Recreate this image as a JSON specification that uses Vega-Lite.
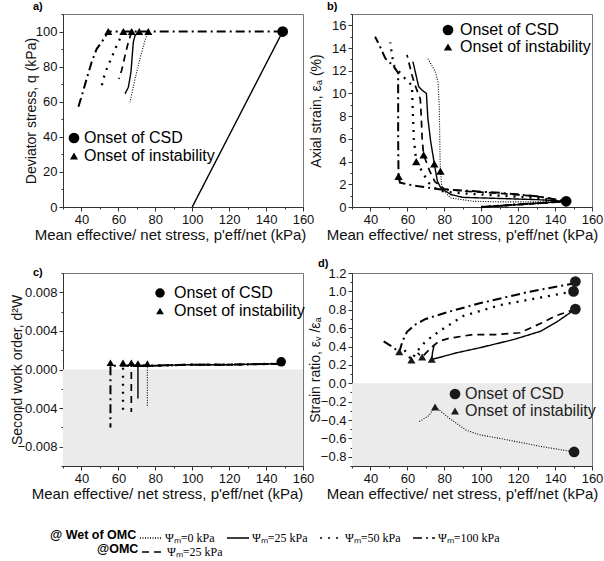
{
"$schema":"https://vega.github.io/schema/vega-lite/v6.json",
"padding":{"left":10,"top":0,"right":0,"bottom":0},
"background":"white",
"config":{
 "font":"Liberation Sans",
 "view":{"stroke":"#777","strokeWidth":1},
 "axis":{"labelFont":"Liberation Sans","labelFontSize":13,"labelColor":"#111","titleFont":"Liberation Sans","titleFontWeight":"normal","titleColor":"#111","domainColor":"#333","tickColor":"#333","grid":false,"ticks":true,"tickSize":3,"labelPadding":2,"labelOverlap":false,"labelBound":false,"labelFlush":false,"tickCount":50},
 "axisX":{"titleFontSize":15,"titlePadding":1},
 "axisY":{"titleFontSize":14},
 "legend":{"padding":0,"labelFont":"Liberation Sans"},
 "title":{"fontSize":11,"fontWeight":"bold","anchor":"start","frame":"group","font":"Liberation Sans","color":"#000"}
},
"datasets":{
 "lineA":[
  {"s":"w100","g":"w100","i":0,"p":149,"v":100},{"s":"w100","g":"w100","i":1,"p":54.5,"v":100},{"s":"w100","g":"w100","i":2,"p":52.8,"v":96.8},{"s":"w100","g":"w100","i":3,"p":48.2,"v":90},{"s":"w100","g":"w100","i":4,"p":45.5,"v":82.5},{"s":"w100","g":"w100","i":5,"p":42.8,"v":73},{"s":"w100","g":"w100","i":6,"p":40.5,"v":64.5},{"s":"w100","g":"w100","i":7,"p":38,"v":56},
  {"s":"w25","g":"d","i":0,"p":100,"v":0},{"s":"w25","g":"d","i":1,"p":149,"v":100},
  {"s":"w50","g":"w50","i":0,"p":62.7,"v":100},{"s":"w50","g":"w50","i":1,"p":59.1,"v":92},{"s":"w50","g":"w50","i":2,"p":56.4,"v":85.4},{"s":"w50","g":"w50","i":3,"p":53.7,"v":78.7},{"s":"w50","g":"w50","i":4,"p":51.8,"v":73},{"s":"w50","g":"w50","i":5,"p":50.6,"v":67},
  {"s":"omc","g":"omc","i":0,"p":67.2,"v":100},{"s":"omc","g":"omc","i":1,"p":65.4,"v":94},{"s":"omc","g":"omc","i":2,"p":63.6,"v":86.3},{"s":"omc","g":"omc","i":3,"p":61.8,"v":78},{"s":"omc","g":"omc","i":4,"p":60.3,"v":73},
  {"s":"w25","g":"w25","i":0,"p":71.3,"v":100},{"s":"w25","g":"w25","i":1,"p":69,"v":97.7},{"s":"w25","g":"w25","i":2,"p":68.1,"v":94},{"s":"w25","g":"w25","i":3,"p":67.5,"v":86.3},{"s":"w25","g":"w25","i":4,"p":66.8,"v":76.8},{"s":"w25","g":"w25","i":5,"p":65.4,"v":68.3},{"s":"w25","g":"w25","i":6,"p":63.6,"v":64.5},
  {"s":"w0","g":"w0","i":0,"p":76.2,"v":100},{"s":"w0","g":"w0","i":1,"p":74.4,"v":94.9},{"s":"w0","g":"w0","i":2,"p":71.7,"v":84.5},{"s":"w0","g":"w0","i":3,"p":69,"v":73},{"s":"w0","g":"w0","i":4,"p":66.3,"v":59.7}
 ],
 "ptA":[
  {"k":"Onset of CSD","p":149,"v":100},
  {"k":"Onset of instability","p":54.5,"v":100},{"k":"Onset of instability","p":62.7,"v":100},{"k":"Onset of instability","p":67.2,"v":100},{"k":"Onset of instability","p":71.3,"v":100},{"k":"Onset of instability","p":76.2,"v":100}
 ],
 "lineB":[
  {"s":"w100","i":0,"p":100,"v":0},{"s":"w100","i":1,"p":146,"v":0.5},{"s":"w100","i":2,"p":130,"v":0.95},{"s":"w100","i":3,"p":110,"v":1.25},{"s":"w100","i":4,"p":90,"v":1.45},{"s":"w100","i":5,"p":78,"v":1.55},{"s":"w100","i":6,"p":65,"v":1.85},{"s":"w100","i":7,"p":59.8,"v":2.0},{"s":"w100","i":8,"p":56,"v":2.15},{"s":"w100","i":9,"p":55.2,"v":2.7},{"s":"w100","i":10,"p":55,"v":6},{"s":"w100","i":11,"p":55,"v":11.8},{"s":"w100","i":12,"p":52.5,"v":12.4},{"s":"w100","i":13,"p":48,"v":13.1},{"s":"w100","i":14,"p":45,"v":14.2},{"s":"w100","i":15,"p":42.5,"v":15.0},
  {"s":"w50","i":0,"p":100,"v":0},{"s":"w50","i":1,"p":146,"v":0.5},{"s":"w50","i":2,"p":130,"v":0.8},{"s":"w50","i":3,"p":110,"v":1.0},{"s":"w50","i":4,"p":90,"v":1.2},{"s":"w50","i":5,"p":80,"v":1.35},{"s":"w50","i":6,"p":76,"v":1.55},{"s":"w50","i":7,"p":71.5,"v":2.13},{"s":"w50","i":8,"p":67.9,"v":3.15},{"s":"w50","i":9,"p":64.8,"v":4.0},{"s":"w50","i":10,"p":63.5,"v":6},{"s":"w50","i":11,"p":62.8,"v":9},{"s":"w50","i":12,"p":62.5,"v":10.7},{"s":"w50","i":13,"p":58.8,"v":11.3},{"s":"w50","i":14,"p":52.5,"v":12.5},{"s":"w50","i":15,"p":50.7,"v":14.5},
  {"s":"omc","i":0,"p":100,"v":0},{"s":"omc","i":1,"p":146,"v":0.5},{"s":"omc","i":2,"p":130,"v":0.95},{"s":"omc","i":3,"p":110,"v":1.2},{"s":"omc","i":4,"p":90,"v":1.4},{"s":"omc","i":5,"p":80,"v":1.6},{"s":"omc","i":6,"p":75,"v":2.2},{"s":"omc","i":7,"p":72,"v":3.2},{"s":"omc","i":8,"p":68.8,"v":4.6},{"s":"omc","i":9,"p":68,"v":6},{"s":"omc","i":10,"p":67.5,"v":8},{"s":"omc","i":11,"p":67,"v":9.5},{"s":"omc","i":12,"p":64,"v":10.8},{"s":"omc","i":13,"p":62.5,"v":11.6},{"s":"omc","i":14,"p":59.8,"v":13.4},
  {"s":"w25","i":0,"p":100,"v":0},{"s":"w25","i":1,"p":146,"v":0.5},{"s":"w25","i":2,"p":130,"v":0.65},{"s":"w25","i":3,"p":110,"v":0.75},{"s":"w25","i":4,"p":90,"v":0.85},{"s":"w25","i":5,"p":83.5,"v":1.1},{"s":"w25","i":6,"p":78,"v":1.7},{"s":"w25","i":7,"p":76.2,"v":2.3},{"s":"w25","i":8,"p":74.6,"v":3.8},{"s":"w25","i":9,"p":72.6,"v":5.8},{"s":"w25","i":10,"p":71.1,"v":7.8},{"s":"w25","i":11,"p":70.3,"v":10.0},{"s":"w25","i":12,"p":67.9,"v":10.3},{"s":"w25","i":13,"p":66.1,"v":10.6},{"s":"w25","i":14,"p":63,"v":12.8},
  {"s":"w0","i":0,"p":100,"v":0},{"s":"w0","i":1,"p":146,"v":0.5},{"s":"w0","i":2,"p":130,"v":0.45},{"s":"w0","i":3,"p":110,"v":0.45},{"s":"w0","i":4,"p":96,"v":0.5},{"s":"w0","i":5,"p":83.3,"v":0.8},{"s":"w0","i":6,"p":78.8,"v":1.6},{"s":"w0","i":7,"p":77.9,"v":3.15},{"s":"w0","i":8,"p":77.7,"v":4.3},{"s":"w0","i":9,"p":77.3,"v":8.7},{"s":"w0","i":10,"p":76.6,"v":11.0},{"s":"w0","i":11,"p":75.2,"v":11.9},{"s":"w0","i":12,"p":71,"v":13.1}
 ],
 "ptB":[
  {"k":"Onset of CSD","p":146,"v":0.5},
  {"k":"Onset of instability","p":55.2,"v":2.7},{"k":"Onset of instability","p":64.8,"v":4.0},{"k":"Onset of instability","p":68.8,"v":4.6},{"k":"Onset of instability","p":74.6,"v":3.8},{"k":"Onset of instability","p":77.9,"v":3.15}
 ],
 "lineC":[
  {"s":"w100","i":0,"p":148,"v":0.0006},{"s":"w100","i":1,"p":120,"v":0.0005},{"s":"w100","i":2,"p":100,"v":0.0005},{"s":"w100","i":3,"p":80,"v":0.0004},{"s":"w100","i":4,"p":55.7,"v":0.0004},{"s":"w100","i":5,"p":55.7,"v":-0.006},
  {"s":"w50","i":0,"p":148,"v":0.0006},{"s":"w50","i":1,"p":120,"v":0.0005},{"s":"w50","i":2,"p":100,"v":0.0005},{"s":"w50","i":3,"p":80,"v":0.0004},{"s":"w50","i":4,"p":62.5,"v":0.0004},{"s":"w50","i":5,"p":62.5,"v":-0.0044},
  {"s":"omc","i":0,"p":148,"v":0.0006},{"s":"omc","i":1,"p":120,"v":0.0005},{"s":"omc","i":2,"p":100,"v":0.0005},{"s":"omc","i":3,"p":80,"v":0.0004},{"s":"omc","i":4,"p":67,"v":0.0004},{"s":"omc","i":5,"p":67,"v":-0.0044},
  {"s":"w25","i":0,"p":148,"v":0.0006},{"s":"w25","i":1,"p":120,"v":0.0005},{"s":"w25","i":2,"p":100,"v":0.0005},{"s":"w25","i":3,"p":80,"v":0.0004},{"s":"w25","i":4,"p":70.6,"v":0.0004},{"s":"w25","i":5,"p":70.6,"v":-0.003},
  {"s":"w0","i":0,"p":148,"v":0.0006},{"s":"w0","i":1,"p":120,"v":0.0005},{"s":"w0","i":2,"p":100,"v":0.0005},{"s":"w0","i":3,"p":80,"v":0.0004},{"s":"w0","i":4,"p":75.7,"v":0.0004},{"s":"w0","i":5,"p":75.7,"v":-0.0039}
 ],
 "ptC":[
  {"k":"Onset of CSD","p":148.2,"v":0.0008},
  {"k":"Onset of instability","p":55.7,"v":0.0007},{"k":"Onset of instability","p":62.5,"v":0.0007},{"k":"Onset of instability","p":67,"v":0.0007},{"k":"Onset of instability","p":70.6,"v":0.0006},{"k":"Onset of instability","p":75.7,"v":0.0006}
 ],
 "lineD":[
  {"s":"w100","i":0,"p":151,"v":1.107},{"s":"w100","i":1,"p":148.5,"v":1.08},{"s":"w100","i":2,"p":124.7,"v":0.99},{"s":"w100","i":3,"p":99.1,"v":0.87},{"s":"w100","i":4,"p":82.7,"v":0.78},{"s":"w100","i":5,"p":69.9,"v":0.70},{"s":"w100","i":6,"p":64.4,"v":0.64},{"s":"w100","i":7,"p":59.8,"v":0.56},{"s":"w100","i":8,"p":57.4,"v":0.46},{"s":"w100","i":9,"p":55.6,"v":0.34},{"s":"w100","i":10,"p":51.6,"v":0.40},{"s":"w100","i":11,"p":47,"v":0.457},
  {"s":"w50","i":0,"p":150,"v":1.0},{"s":"w50","i":1,"p":139.3,"v":0.96},{"s":"w50","i":2,"p":110,"v":0.85},{"s":"w50","i":3,"p":90,"v":0.73},{"s":"w50","i":4,"p":77.2,"v":0.565},{"s":"w50","i":5,"p":69.9,"v":0.457},{"s":"w50","i":6,"p":65.3,"v":0.35},{"s":"w50","i":7,"p":62.2,"v":0.254},{"s":"w50","i":8,"p":58.5,"v":0.36},
  {"s":"omc","i":0,"p":151,"v":0.807},{"s":"omc","i":1,"p":141.1,"v":0.74},{"s":"omc","i":2,"p":132,"v":0.65},{"s":"omc","i":3,"p":121,"v":0.55},{"s":"omc","i":4,"p":108.3,"v":0.53},{"s":"omc","i":5,"p":95.5,"v":0.53},{"s":"omc","i":6,"p":82.7,"v":0.49},{"s":"omc","i":7,"p":77.2,"v":0.457},{"s":"omc","i":8,"p":73.5,"v":0.40},{"s":"omc","i":9,"p":68,"v":0.286},{"s":"omc","i":10,"p":65.5,"v":0.33},
  {"s":"w25","i":0,"p":151,"v":0.807},{"s":"w25","i":1,"p":141.1,"v":0.67},{"s":"w25","i":2,"p":132,"v":0.565},{"s":"w25","i":3,"p":117.4,"v":0.475},{"s":"w25","i":4,"p":99.1,"v":0.386},{"s":"w25","i":5,"p":86.3,"v":0.33},{"s":"w25","i":6,"p":77.2,"v":0.28},{"s":"w25","i":7,"p":73.2,"v":0.26},{"s":"w25","i":8,"p":73.6,"v":0.33},{"s":"w25","i":9,"p":74.4,"v":0.41},
  {"s":"w0","i":0,"p":150.3,"v":-0.747},{"s":"w0","i":1,"p":132,"v":-0.686},{"s":"w0","i":2,"p":113.8,"v":-0.614},{"s":"w0","i":3,"p":99.1,"v":-0.56},{"s":"w0","i":4,"p":91.8,"v":-0.51},{"s":"w0","i":5,"p":82.7,"v":-0.38},{"s":"w0","i":6,"p":77.2,"v":-0.29},{"s":"w0","i":7,"p":75,"v":-0.257},{"s":"w0","i":8,"p":71.7,"v":-0.35},{"s":"w0","i":9,"p":66.2,"v":-0.42}
 ],
 "ptD":[
  {"k":"Onset of CSD","p":151,"v":1.107},{"k":"Onset of CSD","p":150,"v":1.0},{"k":"Onset of CSD","p":151,"v":0.807},{"k":"Onset of CSD","p":150.3,"v":-0.747},
  {"k":"Onset of instability","p":55.6,"v":0.343},{"k":"Onset of instability","p":62.2,"v":0.254},{"k":"Onset of instability","p":68,"v":0.286},{"k":"Onset of instability","p":73.2,"v":0.261},{"k":"Onset of instability","p":75,"v":-0.257}
 ]
},
"columns":2,
"spacing":{"row":66,"column":49},
"bounds":"flush",
"resolve":{"scale":{"shape":"independent","size":"independent","strokeDash":"independent","strokeWidth":"independent"},"legend":{"shape":"independent","size":"independent","strokeDash":"independent","strokeWidth":"independent"}},
"concat":[
 {
  "width":240,"height":193,
  "title":{"text":"a)","dx":-30,"offset":-4},
  "layer":[
   {"data":{"name":"lineA"},
    "mark":{"type":"line","color":"black"},
    "encoding":{
     "x":{"field":"p","type":"quantitative","scale":{"domain":[30,160],"nice":false,"zero":false},"axis":{"title":"Mean effective/ net stress, p'eff/net (kPa)","titleX":107,"format":"d","values":[30,40,50,60,70,80,90,100,110,120,130,140,150,160],"labelExpr":"datum.value % 20 == 0 && datum.value >= 40 ? datum.label : ''","tickSize":{"condition":{"test":"datum.value % 20 == 0","value":4},"value":2}}},
     "y":{"field":"v","type":"quantitative","scale":{"domain":[0,110],"nice":false},"axis":{"title":"Deviator stress, q (kPa)","titlePadding":-3,"format":"d","values":[0,10,20,30,40,50,60,70,80,90,100,110],"labelExpr":"datum.value % 20 == 0 ? datum.label : ''","tickSize":{"condition":{"test":"datum.value % 20 == 0","value":4},"value":2}}},
     "detail":{"field":"g"},
     "order":{"field":"i"},
     "strokeDash":{"field":"s","type":"nominal","scale":{"domain":["w0","w25","w50","w100","omc"],"range":[[1,1.5],[1,0],[2,6],[9,4,2,4],[7,5]]},"legend":null},
     "strokeWidth":{"field":"s","type":"nominal","scale":{"domain":["w0","w25","omc","w100","w50"],"range":[1.1,2.3],"padding":0},"legend":null}
    }},
   {"data":{"name":"ptA"},
    "mark":{"type":"point","filled":true,"opacity":1,"color":"black"},
    "encoding":{
     "x":{"field":"p","type":"quantitative"},
     "y":{"field":"v","type":"quantitative"},
     "shape":{"field":"k","type":"nominal","scale":{"domain":["Onset of CSD","Onset of instability"],"range":["circle","triangle-up"]},"legend":{"orient":"none","legendX":3,"legendY":116,"title":null,"labelFontSize":16,"labelOffset":2,"rowPadding":1,"symbolFillColor":"black","symbolStrokeColor":"black"}},
     "size":{"field":"k","type":"nominal","scale":{"domain":["Onset of CSD","Onset of instability"],"range":[115,65]},"legend":{"orient":"none","legendX":3,"legendY":116,"title":null,"labelFontSize":16,"labelOffset":2,"rowPadding":1,"symbolFillColor":"black","symbolStrokeColor":"black"}}
    }}
  ]
 },
 {
  "width":240,"height":193,
  "title":{"text":"b)","dx":-25,"offset":-4},
  "layer":[
   {"data":{"name":"lineB"},
    "mark":{"type":"line","color":"black"},
    "encoding":{
     "x":{"field":"p","type":"quantitative","scale":{"domain":[30,160],"nice":false,"zero":false},"axis":{"title":"Mean effective/ net stress, p'eff/net (kPa)","titleX":110,"format":"d","values":[30,40,50,60,70,80,90,100,110,120,130,140,150,160],"labelExpr":"datum.value % 20 == 0 && datum.value >= 40 ? datum.label : ''","tickSize":{"condition":{"test":"datum.value % 20 == 0","value":4},"value":2}}},
     "y":{"field":"v","type":"quantitative","scale":{"domain":[0,17],"nice":false},"axis":{"title":"Axial strain, εₐ (%)","titlePadding":8,"format":"d","values":[0,1,2,3,4,5,6,7,8,9,10,11,12,13,14,15,16,17],"labelExpr":"datum.value % 2 == 0 ? datum.label : ''","tickSize":{"condition":{"test":"datum.value % 2 == 0","value":4},"value":2}}},
     "order":{"field":"i"},
     "strokeDash":{"field":"s","type":"nominal","scale":{"domain":["w0","w25","w50","w100","omc"],"range":[[1,1.5],[1,0],[2,6],[9,4,2,4],[7,5]]},"legend":null},
     "strokeWidth":{"field":"s","type":"nominal","scale":{"domain":["w0","w25","omc","w100","w50"],"range":[1.1,2.3],"padding":0},"legend":null}
    }},
   {"data":{"name":"ptB"},
    "mark":{"type":"point","filled":true,"opacity":1,"color":"black"},
    "encoding":{
     "x":{"field":"p","type":"quantitative"},
     "y":{"field":"v","type":"quantitative"},
     "shape":{"field":"k","type":"nominal","scale":{"domain":["Onset of CSD","Onset of instability"],"range":["circle","triangle-up"]},"legend":{"orient":"none","legendX":88,"legendY":8,"title":null,"labelFontSize":16,"labelOffset":4,"rowPadding":0,"symbolFillColor":"black","symbolStrokeColor":"black"}},
     "size":{"field":"k","type":"nominal","scale":{"domain":["Onset of CSD","Onset of instability"],"range":[115,70]},"legend":{"orient":"none","legendX":88,"legendY":8,"title":null,"labelFontSize":16,"labelOffset":4,"rowPadding":0,"symbolFillColor":"black","symbolStrokeColor":"black"}}
    }}
  ]
 },
 {
  "width":240,"height":193,
  "title":{"text":"c)","dx":-30,"offset":-11},
  "layer":[
   {"data":{"values":[{}]},
    "mark":{"type":"rect","color":"#ebebeb"},
    "encoding":{
     "x":{"datum":30,"type":"quantitative","scale":{"domain":[30,160],"nice":false,"zero":false},"axis":{"title":"Mean effective/ net stress, p'eff/net (kPa)","titleX":104,"format":"d","values":[30,40,50,60,70,80,90,100,110,120,130,140,150,160],"labelExpr":"datum.value % 20 == 0 && datum.value >= 40 ? datum.label : ''","tickSize":{"condition":{"test":"datum.value % 20 == 0","value":4},"value":2}}},
     "x2":{"datum":160},
     "y":{"datum":0,"type":"quantitative","scale":{"domain":[-0.01,0.01],"nice":false,"zero":false},"axis":{"title":"Second work order, d²W","titlePadding":-8,"values":[-0.01,-0.008,-0.006,-0.004,-0.002,0,0.002,0.004,0.006,0.008,0.01],"labelExpr":"abs(round(datum.value*1000)) % 4 == 0 ? format(datum.value, '.3f') : ''","tickSize":{"condition":{"test":"abs(round(datum.value*1000)) % 4 == 0","value":4},"value":2}}},
     "y2":{"datum":-0.01}
    }},
   {"data":{"name":"lineC"},
    "transform":[{"filter":"datum.s != 'omc'"}],
    "mark":{"type":"line","color":"black"},
    "encoding":{
     "x":{"field":"p","type":"quantitative","scale":{"domain":[30,160],"nice":false,"zero":false},"axis":{"title":"Mean effective/ net stress, p'eff/net (kPa)","titleX":104,"format":"d","values":[30,40,50,60,70,80,90,100,110,120,130,140,150,160],"labelExpr":"datum.value % 20 == 0 && datum.value >= 40 ? datum.label : ''","tickSize":{"condition":{"test":"datum.value % 20 == 0","value":4},"value":2}}},
     "y":{"field":"v","type":"quantitative","scale":{"domain":[-0.01,0.01],"nice":false,"zero":false},"axis":{"title":"Second work order, d²W","titlePadding":-8,"values":[-0.01,-0.008,-0.006,-0.004,-0.002,0,0.002,0.004,0.006,0.008,0.01],"labelExpr":"abs(round(datum.value*1000)) % 4 == 0 ? format(datum.value, '.3f') : ''","tickSize":{"condition":{"test":"abs(round(datum.value*1000)) % 4 == 0","value":4},"value":2}}},
     "order":{"field":"i"},
     "strokeDash":{"field":"s","type":"nominal","scale":{"domain":["w0","w25","w50","w100"],"range":[[1,1.5],[1,0],[2,6],[9,4,2,4]]},"legend":{"orient":"none","legendX":-13,"legendY":253,"direction":"horizontal","title":"@ Wet of OMC","titleOrient":"left","titleFont":"Liberation Sans","titleFontSize":12.5,"titleFontWeight":"bold","titleColor":"#000","titlePadding":2,"labelFont":"Liberation Serif","labelFontSize":12,"labelColor":"#000","labelOffset":2,"columnPadding":8,"symbolType":"stroke","symbolSize":484,"symbolStrokeWidth":1.6,"symbolStrokeColor":"black","labelExpr":"datum.value == 'w0' ? 'Ψₘ=0 kPa' : datum.value == 'w25' ? 'Ψₘ=25 kPa' : datum.value == 'w50' ? 'Ψₘ=50 kPa' : 'Ψₘ=100 kPa'"}},
     "strokeWidth":{"field":"s","type":"nominal","scale":{"domain":["w0","w25","omc","w100","w50"],"range":[1.1,2.3],"padding":0},"legend":null}
    }},
   {"data":{"name":"lineC"},
    "transform":[{"filter":"datum.s == 'omc'"}],
    "mark":{"type":"line","color":"black"},
    "encoding":{
     "x":{"field":"p","type":"quantitative"},
     "y":{"field":"v","type":"quantitative"},
     "order":{"field":"i"},
     "strokeDash":{"field":"s","type":"nominal","scale":{"domain":["omc"],"range":[[7,5]]},"legend":{"orient":"none","legendX":34,"legendY":267,"direction":"horizontal","title":"@OMC","titleOrient":"left","titleFont":"Liberation Sans","titleFontSize":12.5,"titleFontWeight":"bold","titleColor":"#000","titlePadding":2,"labelFont":"Liberation Serif","labelFontSize":12,"labelColor":"#000","labelOffset":2,"symbolType":"stroke","symbolSize":484,"symbolStrokeWidth":1.6,"symbolStrokeColor":"black","labelExpr":"'Ψₘ=25 kPa'"}},
     "strokeWidth":{"field":"s","type":"nominal","scale":{"domain":["w0","w25","omc","w100","w50"],"range":[1.1,2.3],"padding":0},"legend":null}
    }},
   {"data":{"name":"ptC"},
    "mark":{"type":"point","filled":true,"opacity":1,"color":"black"},
    "encoding":{
     "x":{"field":"p","type":"quantitative"},
     "y":{"field":"v","type":"quantitative"},
     "shape":{"field":"k","type":"nominal","scale":{"domain":["Onset of CSD","Onset of instability"],"range":["circle","triangle-up"]},"legend":{"orient":"none","legendX":89,"legendY":12,"title":null,"labelFontSize":16,"labelOffset":6,"rowPadding":2,"symbolFillColor":"black","symbolStrokeColor":"black"}},
     "size":{"field":"k","type":"nominal","scale":{"domain":["Onset of CSD","Onset of instability"],"range":[90,60]},"legend":{"orient":"none","legendX":89,"legendY":12,"title":null,"labelFontSize":16,"labelOffset":6,"rowPadding":2,"symbolFillColor":"black","symbolStrokeColor":"black"}}
    }}
  ],
  "resolve":{"scale":{"strokeDash":"independent"},"legend":{"strokeDash":"independent"}}
 },
 {
  "width":240,"height":193,
  "title":{"text":"d)","dx":-34,"offset":-2},
  "layer":[
   {"data":{"values":[{}]},
    "mark":{"type":"rect","color":"#ebebeb"},
    "encoding":{
     "x":{"datum":30,"type":"quantitative","scale":{"domain":[30,160],"nice":false,"zero":false},"axis":{"title":"Mean effective/ net stress, p'eff/net (kPa)","titleX":110,"format":"d","values":[30,40,50,60,70,80,90,100,110,120,130,140,150,160],"labelExpr":"datum.value % 20 == 0 && datum.value >= 40 ? datum.label : ''","tickSize":{"condition":{"test":"datum.value % 20 == 0","value":4},"value":2}}},
     "x2":{"datum":160},
     "y":{"datum":0,"type":"quantitative","scale":{"domain":[-0.9,1.2],"nice":false,"zero":false},"axis":{"title":"Strain ratio, εᵥ /εₐ","titlePadding":-2,"values":[-0.9,-0.8,-0.7,-0.6,-0.5,-0.4,-0.3,-0.2,-0.1,0,0.1,0.2,0.3,0.4,0.5,0.6,0.7,0.8,0.9,1.0,1.1,1.2],"labelExpr":"abs(round(datum.value*10)) % 2 == 0 ? format(datum.value, '.1f') : ''","tickSize":{"condition":{"test":"abs(round(datum.value*10)) % 2 == 0","value":4},"value":2}}},
     "y2":{"datum":-0.9}
    }},
   {"data":{"name":"lineD"},
    "mark":{"type":"line","color":"black"},
    "encoding":{
     "x":{"field":"p","type":"quantitative","scale":{"domain":[30,160],"nice":false,"zero":false},"axis":{"title":"Mean effective/ net stress, p'eff/net (kPa)","titleX":110,"format":"d","values":[30,40,50,60,70,80,90,100,110,120,130,140,150,160],"labelExpr":"datum.value % 20 == 0 && datum.value >= 40 ? datum.label : ''","tickSize":{"condition":{"test":"datum.value % 20 == 0","value":4},"value":2}}},
     "y":{"field":"v","type":"quantitative","scale":{"domain":[-0.9,1.2],"nice":false,"zero":false},"axis":{"title":"Strain ratio, εᵥ /εₐ","titlePadding":-2,"values":[-0.9,-0.8,-0.7,-0.6,-0.5,-0.4,-0.3,-0.2,-0.1,0,0.1,0.2,0.3,0.4,0.5,0.6,0.7,0.8,0.9,1.0,1.1,1.2],"labelExpr":"abs(round(datum.value*10)) % 2 == 0 ? format(datum.value, '.1f') : ''","tickSize":{"condition":{"test":"abs(round(datum.value*10)) % 2 == 0","value":4},"value":2}}},
     "order":{"field":"i"},
     "strokeDash":{"field":"s","type":"nominal","scale":{"domain":["w0","w25","w50","w100","omc"],"range":[[1,1.5],[1,0],[2,6],[9,4,2,4],[7,5]]},"legend":null},
     "strokeWidth":{"field":"s","type":"nominal","scale":{"domain":["w0","w25","omc","w100","w50"],"range":[1.1,2.3],"padding":0},"legend":null}
    }},
   {"data":{"name":"ptD"},
    "mark":{"type":"point","filled":true,"opacity":1,"color":"#1a1a1a"},
    "encoding":{
     "x":{"field":"p","type":"quantitative"},
     "y":{"field":"v","type":"quantitative"},
     "shape":{"field":"k","type":"nominal","scale":{"domain":["Onset of CSD","Onset of instability"],"range":["circle","triangle-up"]},"legend":{"orient":"none","legendX":95,"legendY":113,"title":null,"labelFontSize":16,"labelColor":"#222","labelOffset":2,"rowPadding":-3,"symbolFillColor":"#333","symbolStrokeColor":"#333"}},
     "size":{"field":"k","type":"nominal","scale":{"domain":["Onset of CSD","Onset of instability"],"range":[115,65]},"legend":{"orient":"none","legendX":95,"legendY":113,"title":null,"labelFontSize":16,"labelColor":"#222","labelOffset":2,"rowPadding":-3,"symbolFillColor":"#333","symbolStrokeColor":"#333"}}
    }}
  ]
 }
]
}
